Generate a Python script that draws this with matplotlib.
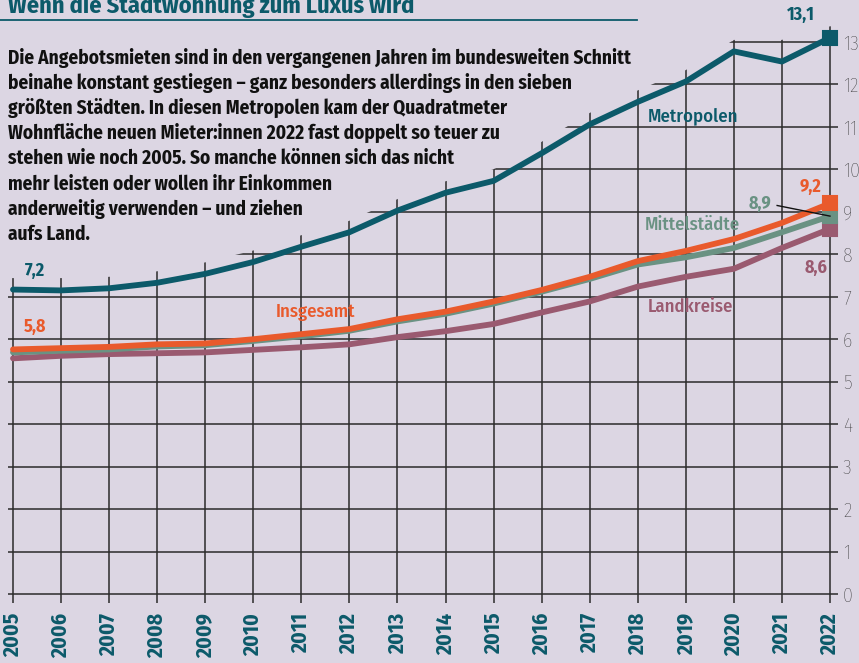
import matplotlib
matplotlib.use("Agg")
import matplotlib.pyplot as plt
from matplotlib.patches import Polygon

plt.rcParams['font.family'] = ['Fira Sans Condensed', 'DejaVu Sans']

# data (Euro per m², Angebotsmieten)
years = list(range(2005, 2023))
metropolen = [7.17, 7.15, 7.2, 7.33, 7.54, 7.82, 8.18, 8.52, 9.03, 9.45, 9.73, 10.38,
              11.06, 11.59, 12.07, 12.78, 12.54, 13.1]
insgesamt = [5.76, 5.79, 5.82, 5.88, 5.9, 6.0, 6.12, 6.24, 6.47, 6.65, 6.89, 7.16,
             7.47, 7.84, 8.08, 8.36, 8.74, 9.2]
mittelstaedte = [5.69, 5.73, 5.76, 5.83, 5.86, 5.96, 6.07, 6.2, 6.42, 6.6, 6.84, 7.12,
                 7.42, 7.76, 7.93, 8.15, 8.52, 8.9]
landkreise = [5.55, 5.61, 5.65, 5.67, 5.69, 5.75, 5.81, 5.88, 6.05, 6.19, 6.36, 6.63,
              6.89, 7.24, 7.47, 7.66, 8.15, 8.6]
yticks = list(range(0, 14))

title = "Wenn die Stadtwohnung zum Luxus wird"
intro = ["Die Angebotsmieten sind in den vergangenen Jahren im bundesweiten Schnitt",
         "beinahe konstant gestiegen – ganz besonders allerdings in den sieben",
         "größten Städten. In diesen Metropolen kam der Quadratmeter",
         "Wohnfläche neuen Mieter:innen 2022 fast doppelt so teuer zu",
         "stehen wie noch 2005. So manche können sich das nicht",
         "mehr leisten oder wollen ihr Einkommen",
         "anderweitig verwenden – und ziehen",
         "aufs Land."]

bg = '#dcd6e3'
teal = '#0c5a6a'
orange = '#e95a2c'
green = '#6a9283'
mauve = '#9a5a70'
gridc = '#2b2b2b'

W, H = 859, 663
fig = plt.figure(figsize=(W / 100, H / 100), dpi=100, facecolor=bg)
ax = fig.add_axes([8 / W, 60 / H, 830 / W, 603 / H])
ax.set_facecolor(bg)

px_x = 48.06   # pixels per year
px_y = 42.46   # pixels per euro
ax.set_xlim(2005 - 5 / px_x, 2022 + 8 / px_x)
ax.set_ylim(-9 / px_y, 594 / px_y)
for s in ax.spines.values():
    s.set_visible(False)

# grid is hidden above the Metropolen line (the intro text sits there)
top = []
m = 0
for v in metropolen:
    m = max(m, v)
    top.append(m + 0.27)
edge = list(zip(years, top))
verts = [(2003, -2), (2003, top[0])] + edge + [(2024, top[-1]), (2024, -2)]
clip = Polygon(verts, closed=True, transform=ax.transData)

vl = ax.vlines(years, -9 / px_y, 15, color=gridc, lw=1.1, zorder=1)
vl.set_clip_path(clip)
hl = ax.hlines(yticks, 2005 - 5 / px_x, 2022 + 8 / px_x, color=gridc, lw=1.1, zorder=1)
hl.set_clip_path(clip)

lw = 4.2
for vals, col, z in [(landkreise, mauve, 3), (mittelstaedte, green, 4),
                     (insgesamt, orange, 5), (metropolen, teal, 6)]:
    ax.plot(years, vals, color=col, lw=lw, solid_capstyle='round',
            solid_joinstyle='round', zorder=z)
    ax.plot(years[-1], vals[-1], marker='s', ms=10, color=col, mec=col,
            mew=1.5, mfc=col, zorder=z + 0.5)

# ticks
ax.yaxis.tick_right()
ax.set_yticks(yticks)
ax.set_yticklabels([str(t) for t in yticks], fontsize=14.5, fontweight='light',
                   color='#333333')
ax.set_xticks(years)
ax.set_xticklabels([str(y) for y in years], rotation=90, fontsize=15.5,
                   fontweight='bold', color=teal)
ax.tick_params(axis='y', length=0, pad=3.5)
ax.tick_params(axis='x', length=0, pad=7)

# series labels
lab = dict(fontsize=13.5, fontweight='medium', ha='center', va='center', zorder=8)
ax.text(2019.15, 11.26, "Metropolen", color=teal, **lab)
ax.text(2019.13, 8.69, "Mittelstädte", color=green, **lab)
ax.text(2011.3, 6.64, "Insgesamt", color=orange, **lab)
ax.text(2019.09, 6.76, "Landkreise", color=mauve, **lab)

val = dict(fontsize=13, fontweight='bold', ha='center', va='center', zorder=8)
ax.text(2021.4, 13.64, "13,1", color=teal, **val)
ax.text(2005.45, 7.6, "7,2", color=teal, **val)
ax.text(2005.45, 6.28, "5,8", color=orange, **val)
ax.text(2021.6, 9.6, "9,2", color=orange, **val)
ax.text(2020.55, 9.2, "8,9", color=green, **val)
ax.text(2021.7, 7.68, "8,6", color=mauve, **val)
ax.plot([2020.9, 2022], [9.15, 8.9], color='#111111', lw=1.0, zorder=7)

# title, rule and intro text
fig.text(8 / W, 1 - 13 / H, title, fontsize=17.5, fontweight='bold', color=teal,
         va='baseline', ha='left')
fig.add_artist(plt.Line2D([0, 637 / W], [1 - 20 / H, 1 - 20 / H], color=teal, lw=1.3))
for i, line in enumerate(intro):
    fig.text(8 / W, 1 - (63.5 + i * 25.2) / H, line, fontsize=13.9,
             fontweight='bold', color='#111111', va='baseline', ha='left')

fig.savefig("out.png", dpi=100, facecolor=bg)
